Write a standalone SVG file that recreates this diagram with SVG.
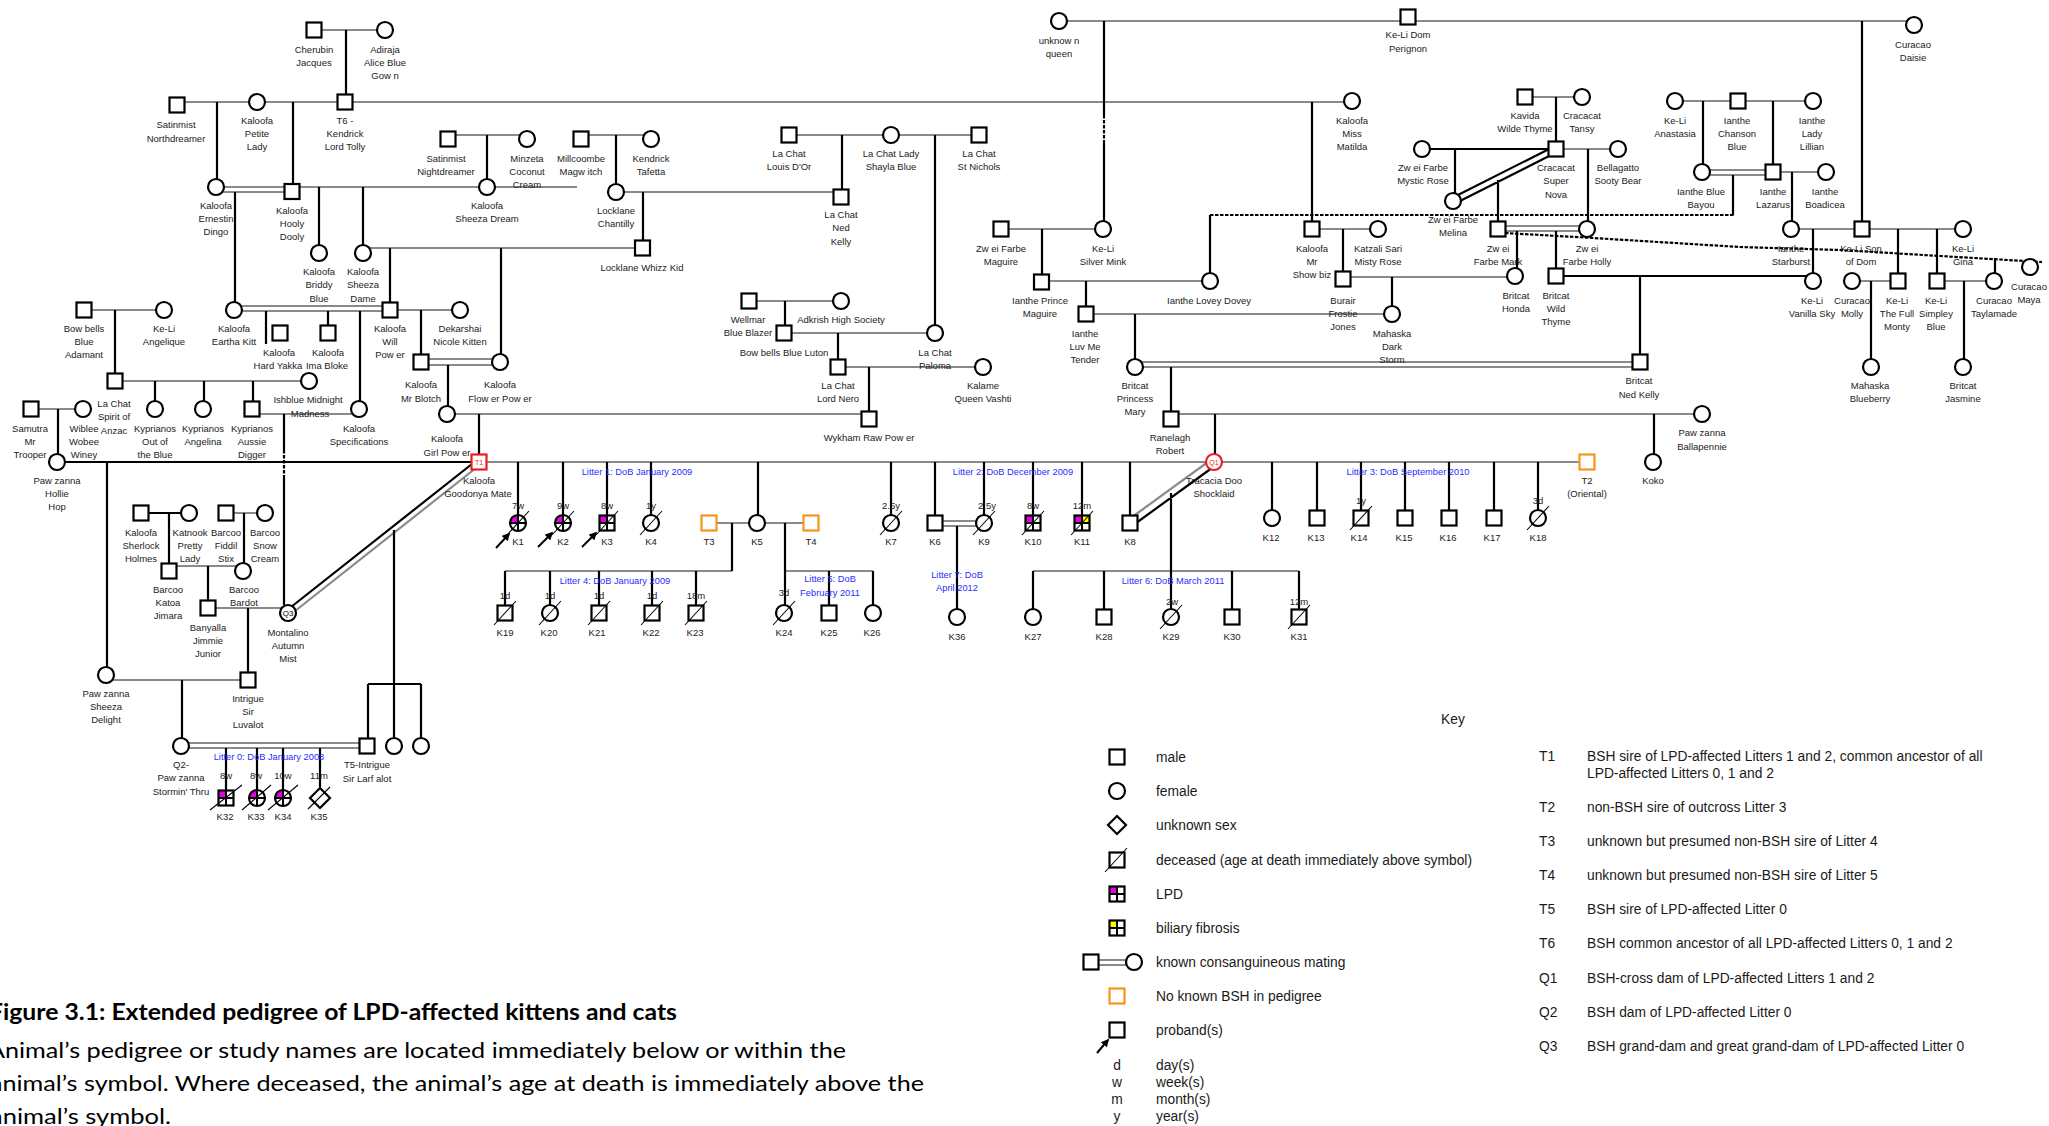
<svg xmlns="http://www.w3.org/2000/svg" width="2049" height="1126" viewBox="0 0 2049 1126">
<defs>
<style>
.m,.f{fill:#fff;stroke:#000;stroke-width:2.2}
.o{fill:#fff;stroke:#f7941d;stroke-width:2.2}
.r{fill:#fff;stroke:#ed1c24;stroke-width:2.2}
.n{fill:none;stroke:#000;stroke-width:2.2}
.w{fill:#fff}
.g{stroke:#8a8a8a;stroke-width:2.2;fill:none}
.b{stroke:#000;stroke-width:2.2;fill:none}
.d{stroke:#000;stroke-width:2.2;fill:none;stroke-dasharray:3.5 1.5}
.x{stroke:#000;stroke-width:1.1;fill:none}
.q{stroke:#000;stroke-width:2;fill:none}
.lp{fill:#e600e6}
.bf{fill:#ffff00}
.ar{stroke:#000;stroke-width:2;fill:none;marker-end:url(#ah)}
text{font-family:"Liberation Sans",Arial,sans-serif}
.t{font-size:9.5px;fill:#222;text-anchor:middle}
.l{font-size:9.3px;fill:#2b2bff;text-anchor:middle}
.rt{font-size:7px;fill:#ed1c24;text-anchor:middle}
.bt{font-size:8px;fill:#000;text-anchor:middle}
.k{font-size:13.8px;fill:#1a1a1a}
.c{font-family:Lato,"Liberation Sans",sans-serif;font-size:22px;fill:#000}
</style>
<marker id="ah" viewBox="0 0 10 10" refX="8" refY="5" markerWidth="4" markerHeight="4" orient="auto"><path d="M0,0L10,5L0,10z" fill="#000"/></marker>
</defs>
<rect width="2049" height="1126" fill="#fff"/>

<g id="connectors">
<path class="g" d="M177,102H1352 M314,30H385 M216,187H577 M216,192H292 M448,135H527 M581,135H651 M363,248H642 M616,192H841 M789,135H979 M1059,21H1914 M1525,97H1582 M1556,149H1618 M1498,226H1587 M1498,231H1587 M1675,101H1813 M1702,170H1773 M1702,175H1773 M1773,172H1826 M1791,229H1963 M1852,281H1898 M1937,281H1994 M1001,229H1103 M1312,229H1378 M1041,281H1210 M1343,277H1515 M1086,314H1392 M1135,362H1640 M1135,367H1640 M1171,414H1702 M479,462H1587 M749,301H841 M784,333H935 M838,367H983 M447,414H869 M84,310H164 M234,306H390 M234,311H390 M390,310H460 M421,359H500 M421,365H500 M115,381H309 M31,409H83 M252,414H359 M226,513H265 M169,566H243 M208,608H288 M106,680H248 M181,743H367 M181,748H367 M709,523H811 M935,521H984 M935,526H984 M505,571H732 M785,571H873 M1033,571H1299 M481,464L290,615 M1128,520L1212,459"/>
<path class="b" d="M57,462H479 M1422,149H1556 M1556,276H1813 M141,513H189 M368,684H421 M477,460L286,611 M1132,526L1216,465 M1452,198L1555,146 M1454,204L1557,152 M346,30V95 M217,102V179 M293,102V184 M235,192V302 M319,187V245 M363,187V245 M487,135V179 M616,135V184 M643,192V240 M842,135V189 M935,135V325 M390,248V302 M501,248V354 M1104,21V115 M1104,140V221 M1312,102V221 M1862,21V221 M1556,97V141 M1455,149V193 M1588,149V221 M1498,180V221 M1703,101V164 M1773,101V164 M1792,172V221 M1813,229V273 M1898,229V273 M1937,229V273 M1871,281V359 M1964,281V359 M1733,175V215 M1210,215V273 M1517,231V268 M1556,231V268 M1640,276V354 M1995,258V273 M1042,229V274 M1086,281V306 M1343,229V271 M1392,277V306 M1135,314V359 M1171,367V411 M1215,414V454 M1654,414V454 M785,301V325 M838,333V359 M869,367V411 M115,310V373 M266,311V344 M328,311V325 M360,311V401 M421,310V354 M448,365V406 M479,414V454 M155,381V401 M204,381V401 M253,381V401 M58,409V454 M284,414V450 M284,476V605 M107,462V667 M169,513V563 M244,513V563 M208,566V600 M248,608V672 M182,680V738 M394,530V738 M368,684V738 M421,684V738 M226,748V790 M257,748V790 M283,748V790 M320,748V787 M518,462V515 M563,462V515 M607,462V515 M651,462V515 M758,462V515 M891,462V515 M935,462V515 M984,462V515 M1033,462V515 M1082,462V515 M1130,462V515 M1272,462V510 M1317,462V510 M1361,462V510 M1405,462V510 M1449,462V510 M1494,462V510 M1538,462V510 M732,523V571 M785,523V605 M505,571V605 M550,571V605 M599,571V605 M652,571V605 M696,571V605 M829,571V605 M873,571V605 M957,526V609 M1171,493V571 M1033,571V609 M1104,571V609 M1171,571V609 M1232,571V609 M1299,571V609"/>
<path class="d" d="M1210,215H1735 M1505,233L1593,238L1740,247L1840,250L1940,256L2042,262 M1104,115V140 M284,450V476"/>
</g>

<g id="nodes">
<g id="n-cherubin"><rect class="m" x="306.5" y="22.5" width="15" height="15"/><text class="t" x="314" y="52.5">Cherubin<tspan x="314" dy="13">Jacques</tspan></text></g>
<g id="n-adiraja"><circle class="f" cx="385" cy="30" r="8"/><text class="t" x="385" y="52.5">Adiraja<tspan x="385" dy="13">Alice Blue</tspan><tspan x="385" dy="13">Gow n</tspan></text></g>
<g id="n-satinmist-n"><rect class="m" x="169.5" y="97.5" width="15" height="15"/><text class="t" x="176" y="127.5">Satinmist<tspan x="176" dy="14">Northdreamer</tspan></text></g>
<g id="n-petite"><circle class="f" cx="257" cy="102" r="8"/><text class="t" x="257" y="123.5">Kaloofa<tspan x="257" dy="13">Petite</tspan><tspan x="257" dy="13">Lady</tspan></text></g>
<g id="n-t6"><rect class="m" x="337.5" y="94.5" width="15" height="15"/><text class="t" x="345" y="123.5">T6 -<tspan x="345" dy="13">Kendrick</tspan><tspan x="345" dy="13">Lord Tolly</tspan></text></g>
<g id="n-ernestin"><circle class="f" cx="216" cy="187" r="8"/><text class="t" x="216" y="208.5">Kaloofa<tspan x="216" dy="13">Ernestin</tspan><tspan x="216" dy="13">Dingo</tspan></text></g>
<g id="n-hooly"><rect class="m" x="284.5" y="184" width="15" height="15"/><text class="t" x="292" y="213.5">Kaloofa<tspan x="292" dy="13">Hooly</tspan><tspan x="292" dy="13">Dooly</tspan></text></g>
<g id="n-satinmist-ni"><rect class="m" x="440.5" y="131.5" width="15" height="15"/><text class="t" x="446" y="161.5">Satinmist<tspan x="446" dy="13">Nightdreamer</tspan></text></g>
<g id="n-minzeta"><circle class="f" cx="527" cy="139" r="8"/><text class="t" x="527" y="161.5">Minzeta<tspan x="527" dy="13">Coconut</tspan><tspan x="527" dy="13">Cream</tspan></text></g>
<g id="n-sheezadream"><circle class="f" cx="487" cy="187" r="8"/><text class="t" x="487" y="208.5">Kaloofa<tspan x="487" dy="13">Sheeza Dream</tspan></text></g>
<g id="n-briddy"><circle class="f" cx="319" cy="253" r="8"/><text class="t" x="319" y="274.5">Kaloofa<tspan x="319" dy="13.5">Briddy</tspan><tspan x="319" dy="13.5">Blue</tspan></text></g>
<g id="n-sheezadame"><circle class="f" cx="363" cy="253" r="8"/><text class="t" x="363" y="274.5">Kaloofa<tspan x="363" dy="13.5">Sheeza</tspan><tspan x="363" dy="13.5">Dame</tspan></text></g>
<g id="n-millcoombe"><rect class="m" x="573.5" y="131.5" width="15" height="15"/><text class="t" x="581" y="161.5">Millcoombe<tspan x="581" dy="13">Magw itch</tspan></text></g>
<g id="n-tafetta"><circle class="f" cx="651" cy="139" r="8"/><text class="t" x="651" y="161.5">Kendrick<tspan x="651" dy="13">Tafetta</tspan></text></g>
<g id="n-chantilly"><circle class="f" cx="616" cy="192" r="8"/><text class="t" x="616" y="213.5">Locklane<tspan x="616" dy="13">Chantilly</tspan></text></g>
<g id="n-whizz"><rect class="m" x="635" y="240.5" width="15" height="15"/><text class="t" x="642" y="270.5">Locklane Whizz Kid</text></g>
<g id="n-louis"><rect class="m" x="781.5" y="127.5" width="15" height="15"/><text class="t" x="789" y="156.5">La Chat<tspan x="789" dy="13">Louis D'Or</tspan></text></g>
<g id="n-shayla"><circle class="f" cx="891" cy="135" r="8"/><text class="t" x="891" y="156.5">La Chat Lady<tspan x="891" dy="13">Shayla Blue</tspan></text></g>
<g id="n-stnichols"><rect class="m" x="971.5" y="127.5" width="15" height="15"/><text class="t" x="979" y="156.5">La Chat<tspan x="979" dy="13">St Nichols</tspan></text></g>
<g id="n-nedkelly-lc"><rect class="m" x="833.5" y="189.5" width="15" height="15"/><text class="t" x="841" y="217.5">La Chat<tspan x="841" dy="13.5">Ned</tspan><tspan x="841" dy="13.5">Kelly</tspan></text></g>
<g id="n-unknownqueen"><circle class="f" cx="1059" cy="21" r="8"/><text class="t" x="1059" y="43.5">unknow n<tspan x="1059" dy="13">queen</tspan></text></g>
<g id="n-domperignon"><rect class="m" x="1400.5" y="9.5" width="15" height="15"/><text class="t" x="1408" y="37.5">Ke-Li Dom<tspan x="1408" dy="14">Perignon</tspan></text></g>
<g id="n-daisie"><circle class="f" cx="1914" cy="25" r="8"/><text class="t" x="1913" y="47.5">Curacao<tspan x="1913" dy="13">Daisie</tspan></text></g>
<g id="n-matilda"><circle class="f" cx="1352" cy="101" r="8"/><text class="t" x="1352" y="123.5">Kaloofa<tspan x="1352" dy="13">Miss</tspan><tspan x="1352" dy="13">Matilda</tspan></text></g>
<g id="n-kavida"><rect class="m" x="1517.5" y="89.5" width="15" height="15"/><text class="t" x="1525" y="118.5">Kavida<tspan x="1525" dy="13">Wilde Thyme</tspan></text></g>
<g id="n-tansy"><circle class="f" cx="1582" cy="97" r="8"/><text class="t" x="1582" y="118.5">Cracacat<tspan x="1582" dy="13">Tansy</tspan></text></g>
<g id="n-mysticrose"><circle class="f" cx="1422" cy="149" r="8"/><text class="t" x="1423" y="170.5">Zw ei Farbe<tspan x="1423" dy="13">Mystic Rose</tspan></text></g>
<g id="n-supernova"><rect class="m" x="1548.5" y="141.5" width="15" height="15"/><text class="t" x="1556" y="170.5">Cracacat<tspan x="1556" dy="13.5">Super</tspan><tspan x="1556" dy="13.5">Nova</tspan></text></g>
<g id="n-sootybear"><circle class="f" cx="1618" cy="149" r="8"/><text class="t" x="1618" y="170.5">Bellagatto<tspan x="1618" dy="13">Sooty Bear</tspan></text></g>
<g id="n-melina"><circle class="f" cx="1453" cy="201" r="8"/><text class="t" x="1453" y="222.5">Zw ei Farbe<tspan x="1453" dy="13">Melina</tspan></text></g>
<g id="n-mark"><rect class="m" x="1490.5" y="221.5" width="15" height="15"/><text class="t" x="1498" y="251.5">Zw ei<tspan x="1498" dy="13">Farbe Mark</tspan></text></g>
<g id="n-holly"><circle class="f" cx="1587" cy="229" r="8"/><text class="t" x="1587" y="251.5">Zw ei<tspan x="1587" dy="13">Farbe Holly</tspan></text></g>
<g id="n-anastasia"><circle class="f" cx="1675" cy="101" r="8"/><text class="t" x="1675" y="123.5">Ke-Li<tspan x="1675" dy="13">Anastasia</tspan></text></g>
<g id="n-chanson"><rect class="m" x="1730.5" y="93.5" width="15" height="15"/><text class="t" x="1737" y="123.5">Ianthe<tspan x="1737" dy="13">Chanson</tspan><tspan x="1737" dy="13">Blue</tspan></text></g>
<g id="n-lillian"><circle class="f" cx="1813" cy="101" r="8"/><text class="t" x="1812" y="123.5">Ianthe<tspan x="1812" dy="13">Lady</tspan><tspan x="1812" dy="13">Lillian</tspan></text></g>
<g id="n-bluebayou"><circle class="f" cx="1702" cy="172" r="8"/><text class="t" x="1701" y="194.5">Ianthe Blue<tspan x="1701" dy="13">Bayou</tspan></text></g>
<g id="n-lazarus"><rect class="m" x="1765.5" y="164.5" width="15" height="15"/><text class="t" x="1773" y="194.5">Ianthe<tspan x="1773" dy="13">Lazarus</tspan></text></g>
<g id="n-boadicea"><circle class="f" cx="1826" cy="172" r="8"/><text class="t" x="1825" y="194.5">Ianthe<tspan x="1825" dy="13">Boadicea</tspan></text></g>
<g id="n-starburst"><circle class="f" cx="1791" cy="229" r="8"/><text class="t" x="1791" y="251.5">Ianthe<tspan x="1791" dy="13">Starburst</tspan></text></g>
<g id="n-sonofdom"><rect class="m" x="1854.5" y="221.5" width="15" height="15"/><text class="t" x="1861" y="251.5">Ke-Li Son<tspan x="1861" dy="13">of Dom</tspan></text></g>
<g id="n-gina"><circle class="f" cx="1963" cy="229" r="8"/><text class="t" x="1963" y="251.5">Ke-Li<tspan x="1963" dy="13">Gina</tspan></text></g>
<g id="n-maya"><circle class="f" cx="2030" cy="267" r="8"/><text class="t" x="2029" y="289.5">Curacao<tspan x="2029" dy="13">Maya</tspan></text></g>
<g id="n-vanillasky"><circle class="f" cx="1813" cy="281" r="8"/><text class="t" x="1812" y="303.5">Ke-Li<tspan x="1812" dy="13">Vanilla Sky</tspan></text></g>
<g id="n-molly"><circle class="f" cx="1852" cy="281" r="8"/><text class="t" x="1852" y="303.5">Curacao<tspan x="1852" dy="13">Molly</tspan></text></g>
<g id="n-fullmonty"><rect class="m" x="1890.5" y="273.5" width="15" height="15"/><text class="t" x="1897" y="303.5">Ke-Li<tspan x="1897" dy="13">The Full</tspan><tspan x="1897" dy="13">Monty</tspan></text></g>
<g id="n-simpley"><rect class="m" x="1929.5" y="273.5" width="15" height="15"/><text class="t" x="1936" y="303.5">Ke-Li<tspan x="1936" dy="13">Simpley</tspan><tspan x="1936" dy="13">Blue</tspan></text></g>
<g id="n-taylamade"><circle class="f" cx="1994" cy="281" r="8"/><text class="t" x="1994" y="303.5">Curacao<tspan x="1994" dy="13">Taylamade</tspan></text></g>
<g id="n-blueberry"><circle class="f" cx="1871" cy="367" r="8"/><text class="t" x="1870" y="388.5">Mahaska<tspan x="1870" dy="13">Blueberry</tspan></text></g>
<g id="n-jasmine"><circle class="f" cx="1963" cy="367" r="8"/><text class="t" x="1963" y="388.5">Britcat<tspan x="1963" dy="13">Jasmine</tspan></text></g>
<g id="n-maguire-zf"><rect class="m" x="993.5" y="221.5" width="15" height="15"/><text class="t" x="1001" y="251.5">Zw ei Farbe<tspan x="1001" dy="13">Maguire</tspan></text></g>
<g id="n-silvermink"><circle class="f" cx="1103" cy="229" r="8"/><text class="t" x="1103" y="251.5">Ke-Li<tspan x="1103" dy="13">Silver Mink</tspan></text></g>
<g id="n-showbiz"><rect class="m" x="1304.5" y="221.5" width="15" height="15"/><text class="t" x="1312" y="251.5">Kaloofa<tspan x="1312" dy="13">Mr</tspan><tspan x="1312" dy="13">Show biz</tspan></text></g>
<g id="n-mistyrose"><circle class="f" cx="1378" cy="229" r="8"/><text class="t" x="1378" y="251.5">Katzali Sari<tspan x="1378" dy="13">Misty Rose</tspan></text></g>
<g id="n-princemaguire"><rect class="m" x="1034" y="274.5" width="15" height="15"/><text class="t" x="1040" y="303.5">Ianthe Prince<tspan x="1040" dy="13">Maguire</tspan></text></g>
<g id="n-loveydovey"><circle class="f" cx="1210" cy="281" r="8"/><text class="t" x="1209" y="303.5">Ianthe Lovey Dovey</text></g>
<g id="n-burair"><rect class="m" x="1335.5" y="271.5" width="15" height="15"/><text class="t" x="1343" y="303.5">Burair<tspan x="1343" dy="13">Frostie</tspan><tspan x="1343" dy="13">Jones</tspan></text></g>
<g id="n-honda"><circle class="f" cx="1515" cy="276" r="8"/><text class="t" x="1516" y="298.5">Britcat<tspan x="1516" dy="13">Honda</tspan></text></g>
<g id="n-wildthyme"><rect class="m" x="1548.5" y="268.5" width="15" height="15"/><text class="t" x="1556" y="298.5">Britcat<tspan x="1556" dy="13">Wild</tspan><tspan x="1556" dy="13.5">Thyme</tspan></text></g>
<g id="n-luvmetender"><rect class="m" x="1078.5" y="306.5" width="15" height="15"/><text class="t" x="1085" y="336.5">Ianthe<tspan x="1085" dy="13">Luv Me</tspan><tspan x="1085" dy="13">Tender</tspan></text></g>
<g id="n-darkstorm"><circle class="f" cx="1392" cy="314" r="8"/><text class="t" x="1392" y="336.5">Mahaska<tspan x="1392" dy="13">Dark</tspan><tspan x="1392" dy="13">Storm</tspan></text></g>
<g id="n-princessmary"><circle class="f" cx="1135" cy="367" r="8"/><text class="t" x="1135" y="388.5">Britcat<tspan x="1135" dy="13">Princess</tspan><tspan x="1135" dy="13.5">Mary</tspan></text></g>
<g id="n-nedkelly-b"><rect class="m" x="1632.5" y="354.5" width="15" height="15"/><text class="t" x="1639" y="383.5">Britcat<tspan x="1639" dy="14">Ned Kelly</tspan></text></g>
<g id="n-ranelagh"><rect class="m" x="1163.5" y="411.5" width="15" height="15"/><text class="t" x="1170" y="440.5">Ranelagh<tspan x="1170" dy="13">Robert</tspan></text></g>
<g id="n-ballapennie"><circle class="f" cx="1702" cy="414" r="8"/><text class="t" x="1702" y="435.5">Paw zanna<tspan x="1702" dy="14">Ballapennie</tspan></text></g>
<g id="n-q1"><circle class="r" cx="1214" cy="462" r="8"/><text class="rt" x="1214" y="464.5">Q1</text><text class="t" x="1214" y="483.5">Tracacia Doo<tspan x="1214" dy="13">Shocklaid</tspan></text></g>
<g id="n-koko"><circle class="f" cx="1653" cy="462" r="8"/><text class="t" x="1653" y="483.5">Koko</text></g>
<g id="n-t2"><rect class="o" x="1579.5" y="454.5" width="15" height="15"/><text class="t" x="1587" y="483.5">T2<tspan x="1587" dy="13">(Oriental)</tspan></text></g>
<g id="n-wellmar"><rect class="m" x="741.5" y="293.5" width="15" height="15"/><text class="t" x="748" y="322.5">Wellmar<tspan x="748" dy="13">Blue Blazer</tspan></text></g>
<g id="n-adkrish"><circle class="f" cx="841" cy="301" r="8"/><text class="t" x="841" y="322.5">Adkrish High Society</text></g>
<g id="n-luton"><rect class="m" x="776.5" y="325.5" width="15" height="15"/><text class="t" x="784" y="355.5">Bow bells Blue Luton</text></g>
<g id="n-paloma"><circle class="f" cx="935" cy="333" r="8"/><text class="t" x="935" y="355.5">La Chat<tspan x="935" dy="13">Paloma</tspan></text></g>
<g id="n-lordnero"><rect class="m" x="830.5" y="359.5" width="15" height="15"/><text class="t" x="838" y="388.5">La Chat<tspan x="838" dy="13">Lord Nero</tspan></text></g>
<g id="n-kalame"><circle class="f" cx="983" cy="367" r="8"/><text class="t" x="983" y="388.5">Kalame<tspan x="983" dy="13">Queen Vashti</tspan></text></g>
<g id="n-wykham"><rect class="m" x="861.5" y="411.5" width="15" height="15"/><text class="t" x="869" y="440.5">Wykham Raw  Pow er</text></g>
<g id="n-bowbells-adamant"><rect class="m" x="76.5" y="302.5" width="15" height="15"/><text class="t" x="84" y="331.5">Bow bells<tspan x="84" dy="13">Blue</tspan><tspan x="84" dy="13.5">Adamant</tspan></text></g>
<g id="n-angelique"><circle class="f" cx="164" cy="310" r="8"/><text class="t" x="164" y="331.5">Ke-Li<tspan x="164" dy="13">Angelique</tspan></text></g>
<g id="n-eartha"><circle class="f" cx="234" cy="310" r="8"/><text class="t" x="234" y="331.5">Kaloofa<tspan x="234" dy="13">Eartha Kitt</tspan></text></g>
<g id="n-hardyakka"><rect class="m" x="272.5" y="325.5" width="15" height="15"/><text class="t" x="279" y="355.5">Kaloofa<tspan x="278" dy="13">Hard Yakka</tspan></text></g>
<g id="n-imabloke"><rect class="m" x="320.5" y="325.5" width="15" height="15"/><text class="t" x="328" y="355.5">Kaloofa<tspan x="327" dy="13">Ima Bloke</tspan></text></g>
<g id="n-willpower"><rect class="m" x="382.5" y="302.5" width="15" height="15"/><text class="t" x="390" y="331.5">Kaloofa<tspan x="390" dy="13">Will</tspan><tspan x="390" dy="13.5">Pow er</tspan></text></g>
<g id="n-dekarshai"><circle class="f" cx="460" cy="310" r="8"/><text class="t" x="460" y="331.5">Dekarshai<tspan x="460" dy="13">Nicole Kitten</tspan></text></g>
<g id="n-mrblotch"><rect class="m" x="413.5" y="354.5" width="15" height="15"/><text class="t" x="421" y="387.5">Kaloofa<tspan x="421" dy="14">Mr Blotch</tspan></text></g>
<g id="n-flowerpower"><circle class="f" cx="500" cy="362" r="8"/><text class="t" x="500" y="387.5">Kaloofa<tspan x="500" dy="14">Flow er Pow er</tspan></text></g>
<g id="n-girlpower"><circle class="f" cx="447" cy="414" r="8"/><text class="t" x="447" y="441.5">Kaloofa<tspan x="447" dy="14">Girl Pow er</tspan></text></g>
<g id="n-t1"><rect class="r" x="471.5" y="454.5" width="15" height="15"/><text class="rt" x="479" y="464.5">T1</text><text class="t" x="479" y="483.5">Kaloofa<tspan x="478" dy="13">Goodonya Mate</tspan></text></g>
<g id="n-anzac"><rect class="m" x="107.5" y="373.5" width="15" height="15"/><text class="t" x="114" y="406.5">La Chat<tspan x="114" dy="13.5">Spirit of</tspan><tspan x="114" dy="13.5">Anzac</tspan></text></g>
<g id="n-ishblue"><circle class="f" cx="309" cy="381" r="8"/><text class="t" x="308" y="402.5">Ishblue Midnight<tspan x="310" dy="14">Madness</tspan></text></g>
<g id="n-outoftheblue"><circle class="f" cx="155" cy="409" r="8"/><text class="t" x="155" y="431.5">Kyprianos<tspan x="155" dy="13">Out of</tspan><tspan x="155" dy="13">the Blue</tspan></text></g>
<g id="n-angelina"><circle class="f" cx="203" cy="409" r="8"/><text class="t" x="203" y="431.5">Kyprianos<tspan x="203" dy="13">Angelina</tspan></text></g>
<g id="n-aussiedigger"><rect class="m" x="244.5" y="401.5" width="15" height="15"/><text class="t" x="252" y="431.5">Kyprianos<tspan x="252" dy="13">Aussie</tspan><tspan x="252" dy="13">Digger</tspan></text></g>
<g id="n-specifications"><circle class="f" cx="359" cy="409" r="8"/><text class="t" x="359" y="431.5">Kaloofa<tspan x="359" dy="13">Specifications</tspan></text></g>
<g id="n-samutra"><rect class="m" x="23.5" y="401.5" width="15" height="15"/><text class="t" x="30" y="431.5">Samutra<tspan x="30" dy="13">Mr</tspan><tspan x="30" dy="13">Trooper</tspan></text></g>
<g id="n-wiblee"><circle class="f" cx="83" cy="409" r="8"/><text class="t" x="84" y="431.5">Wiblee<tspan x="84" dy="13">Wobee</tspan><tspan x="84" dy="13">Winey</tspan></text></g>
<g id="n-holliehop"><circle class="f" cx="57" cy="462" r="8"/><text class="t" x="57" y="483.5">Paw zanna<tspan x="57" dy="13">Hollie</tspan><tspan x="57" dy="13">Hop</tspan></text></g>
<g id="n-sherlock"><rect class="m" x="133.5" y="505.5" width="15" height="15"/><text class="t" x="141" y="535.5">Kaloofa<tspan x="141" dy="13">Sherlock</tspan><tspan x="141" dy="13">Holmes</tspan></text></g>
<g id="n-katnook"><circle class="f" cx="189" cy="513" r="8"/><text class="t" x="190" y="535.5">Katnook<tspan x="190" dy="13">Pretty</tspan><tspan x="190" dy="13">Lady</tspan></text></g>
<g id="n-fiddil"><rect class="m" x="218.5" y="505.5" width="15" height="15"/><text class="t" x="226" y="535.5">Barcoo<tspan x="226" dy="13">Fiddil</tspan><tspan x="226" dy="13">Stix</tspan></text></g>
<g id="n-snowcream"><circle class="f" cx="265" cy="513" r="8"/><text class="t" x="265" y="535.5">Barcoo<tspan x="265" dy="13">Snow</tspan><tspan x="265" dy="13">Cream</tspan></text></g>
<g id="n-katoa"><rect class="m" x="161.5" y="563.5" width="15" height="15"/><text class="t" x="168" y="592.5">Barcoo<tspan x="168" dy="13">Katoa</tspan><tspan x="168" dy="13">Jimara</tspan></text></g>
<g id="n-bardot"><circle class="f" cx="243" cy="571" r="8"/><text class="t" x="244" y="592.5">Barcoo<tspan x="244" dy="13">Bardot</tspan></text></g>
<g id="n-jimmie"><rect class="m" x="200.5" y="600.5" width="15" height="15"/><text class="t" x="208" y="630.5">Banyalla<tspan x="208" dy="13">Jimmie</tspan><tspan x="208" dy="13">Junior</tspan></text></g>
<g id="n-q3"><circle class="f" cx="288" cy="613" r="8"/><text class="bt" x="288" y="616">Q3</text><text class="t" x="288" y="635.5">Montalino<tspan x="288" dy="13">Autumn</tspan><tspan x="288" dy="13">Mist</tspan></text></g>
<g id="n-sheezadelight"><circle class="f" cx="106" cy="675" r="8"/><text class="t" x="106" y="696.5">Paw zanna<tspan x="106" dy="13">Sheeza</tspan><tspan x="106" dy="13.5">Delight</tspan></text></g>
<g id="n-intrigue"><rect class="m" x="240.5" y="672.5" width="15" height="15"/><text class="t" x="248" y="701.5">Intrigue<tspan x="248" dy="13">Sir</tspan><tspan x="248" dy="13">Luvalot</tspan></text></g>
<g id="n-q2"><circle class="f" cx="181" cy="746" r="8"/><text class="t" x="181" y="767.5">Q2-<tspan x="181" dy="13.5">Paw zanna</tspan><tspan x="181" dy="13.5">Stormin' Thru</tspan></text></g>
<g id="n-t5"><rect class="m" x="359.5" y="738.5" width="15" height="15"/><text class="t" x="367" y="767.5">T5-Intrigue<tspan x="367" dy="14">Sir Larf alot</tspan></text></g>
<g id="n-sib1"><circle class="f" cx="394" cy="746" r="8"/></g>
<g id="n-sib2"><circle class="f" cx="421" cy="746" r="8"/></g>

<g id="k1"><circle class="w" cx="518" cy="523" r="8"/><path class="lp" d="M518,523H510A8,8 0 0 1 518,515Z"/><path class="q" d="M510,523H526M518,515V531"/><circle class="n" cx="518" cy="523" r="8"/><path class="x" d="M507,535L529,511"/><path class="ar" d="M496,548L509,534"/><text class="t" x="518" y="508.5">7w</text><text class="t" x="518" y="544.5">K1</text></g>
<g id="k2"><circle class="w" cx="563" cy="523" r="8"/><path class="lp" d="M563,523H555A8,8 0 0 1 563,515Z"/><path class="q" d="M555,523H571M563,515V531"/><circle class="n" cx="563" cy="523" r="8"/><path class="x" d="M552,535L574,511"/><path class="ar" d="M538,547L552,533"/><text class="t" x="563" y="508.5">9w</text><text class="t" x="563" y="544.5">K2</text></g>
<g id="k3"><rect class="w" x="599.5" y="515.5" width="15" height="15"/><rect class="lp" x="599.5" y="515.5" width="7.5" height="7.5"/><path class="q" d="M599.5,523H614.5M607,515.5V530.5"/><rect class="n" x="599.5" y="515.5" width="15" height="15"/><path class="x" d="M596,535L618,511"/><path class="ar" d="M582,547L596,533"/><text class="t" x="607" y="508.5">8w</text><text class="t" x="607" y="544.5">K3</text></g>
<g id="k4"><circle class="f" cx="651" cy="523" r="8"/><path class="x" d="M640,535L662,511"/><text class="t" x="651" y="508.5">1y</text><text class="t" x="651" y="544.5">K4</text></g>
<g id="n-t3"><rect class="o" x="701.5" y="515.5" width="15" height="15"/><text class="t" x="709" y="544.5">T3</text></g>
<g id="k5"><circle class="f" cx="757" cy="523" r="8"/><text class="t" x="757" y="544.5">K5</text></g>
<g id="n-t4"><rect class="o" x="803.5" y="515.5" width="15" height="15"/><text class="t" x="811" y="544.5">T4</text></g>
<g id="k7"><circle class="f" cx="891" cy="523" r="8"/><path class="x" d="M880,535L902,511"/><text class="t" x="891" y="508.5">2.5y</text><text class="t" x="891" y="544.5">K7</text></g>
<g id="k6"><rect class="m" x="927.5" y="515.5" width="15" height="15"/><text class="t" x="935" y="544.5">K6</text></g>
<g id="k9"><circle class="f" cx="984" cy="523" r="8"/><path class="x" d="M973,535L995,511"/><text class="t" x="987" y="508.5">2.5y</text><text class="t" x="984" y="544.5">K9</text></g>
<g id="k10"><rect class="w" x="1025.5" y="515.5" width="15" height="15"/><rect class="lp" x="1025.5" y="515.5" width="7.5" height="7.5"/><path class="q" d="M1025.5,523H1040.5M1033,515.5V530.5"/><rect class="n" x="1025.5" y="515.5" width="15" height="15"/><path class="x" d="M1022,535L1044,511"/><text class="t" x="1033" y="508.5">8w</text><text class="t" x="1033" y="544.5">K10</text></g>
<g id="k11"><rect class="w" x="1074.5" y="515.5" width="15" height="15"/><rect class="lp" x="1074.5" y="515.5" width="7.5" height="7.5"/><rect class="bf" x="1082" y="515.5" width="7.5" height="7.5"/><path class="q" d="M1074.5,523H1089.5M1082,515.5V530.5"/><rect class="n" x="1074.5" y="515.5" width="15" height="15"/><path class="x" d="M1071,535L1093,511"/><text class="t" x="1082" y="508.5">12m</text><text class="t" x="1082" y="544.5">K11</text></g>
<g id="k8"><rect class="m" x="1122.5" y="515.5" width="15" height="15"/><text class="t" x="1130" y="544.5">K8</text></g>
<g id="k12"><circle class="f" cx="1272" cy="518" r="8"/><text class="t" x="1271" y="540.5">K12</text></g>
<g id="k13"><rect class="m" x="1309.5" y="510.5" width="15" height="15"/><text class="t" x="1316" y="540.5">K13</text></g>
<g id="k14"><rect class="m" x="1353.5" y="510.5" width="15" height="15"/><path class="x" d="M1350,530L1372,506"/><text class="t" x="1361" y="503.5">1y</text><text class="t" x="1359" y="540.5">K14</text></g>
<g id="k15"><rect class="m" x="1397.5" y="510.5" width="15" height="15"/><text class="t" x="1404" y="540.5">K15</text></g>
<g id="k16"><rect class="m" x="1441.5" y="510.5" width="15" height="15"/><text class="t" x="1448" y="540.5">K16</text></g>
<g id="k17"><rect class="m" x="1486.5" y="510.5" width="15" height="15"/><text class="t" x="1492" y="540.5">K17</text></g>
<g id="k18"><circle class="f" cx="1538" cy="518" r="8"/><path class="x" d="M1527,530L1549,506"/><text class="t" x="1538" y="503.5">3d</text><text class="t" x="1538" y="540.5">K18</text></g>
<g id="k19"><rect class="m" x="497.5" y="605.5" width="15" height="15"/><path class="x" d="M494,625L516,601"/><text class="t" x="505" y="598.5">1d</text><text class="t" x="505" y="635.5">K19</text></g>
<g id="k20"><circle class="f" cx="550" cy="613" r="8"/><path class="x" d="M539,625L561,601"/><text class="t" x="550" y="598.5">1d</text><text class="t" x="549" y="635.5">K20</text></g>
<g id="k21"><rect class="m" x="591.5" y="605.5" width="15" height="15"/><path class="x" d="M588,625L610,601"/><text class="t" x="599" y="598.5">1d</text><text class="t" x="597" y="635.5">K21</text></g>
<g id="k22"><rect class="m" x="644.5" y="605.5" width="15" height="15"/><path class="x" d="M641,625L663,601"/><text class="t" x="652" y="598.5">1d</text><text class="t" x="651" y="635.5">K22</text></g>
<g id="k23"><rect class="m" x="688.5" y="605.5" width="15" height="15"/><path class="x" d="M685,625L707,601"/><text class="t" x="696" y="598.5">18m</text><text class="t" x="695" y="635.5">K23</text></g>
<g id="k24"><circle class="f" cx="784" cy="613" r="8"/><path class="x" d="M773,625L795,601"/><text class="t" x="784" y="595.5">3d</text><text class="t" x="784" y="635.5">K24</text></g>
<g id="k25"><rect class="m" x="821.5" y="605.5" width="15" height="15"/><text class="t" x="829" y="635.5">K25</text></g>
<g id="k26"><circle class="f" cx="873" cy="613" r="8"/><text class="t" x="872" y="635.5">K26</text></g>
<g id="k36"><circle class="f" cx="957" cy="617" r="8"/><text class="t" x="957" y="639.5">K36</text></g>
<g id="k27"><circle class="f" cx="1033" cy="617" r="8"/><text class="t" x="1033" y="639.5">K27</text></g>
<g id="k28"><rect class="m" x="1096.5" y="609.5" width="15" height="15"/><text class="t" x="1104" y="639.5">K28</text></g>
<g id="k29"><circle class="f" cx="1171" cy="617" r="8"/><path class="x" d="M1160,629L1182,605"/><text class="t" x="1172" y="604.5">2w</text><text class="t" x="1171" y="639.5">K29</text></g>
<g id="k30"><rect class="m" x="1224.5" y="609.5" width="15" height="15"/><text class="t" x="1232" y="639.5">K30</text></g>
<g id="k31"><rect class="m" x="1291.5" y="609.5" width="15" height="15"/><path class="x" d="M1288,629L1310,605"/><text class="t" x="1299" y="604.5">12m</text><text class="t" x="1299" y="639.5">K31</text></g>
<g id="k32"><rect class="w" x="218.5" y="790.5" width="15" height="15"/><rect class="lp" x="218.5" y="790.5" width="7.5" height="7.5"/><path class="q" d="M218.5,798H233.5M226,790.5V805.5"/><rect class="n" x="218.5" y="790.5" width="15" height="15"/><path class="x" d="M210,810L242,785"/><text class="t" x="226" y="778.5">8w</text><text class="t" x="225" y="819.5">K32</text></g>
<g id="k33"><circle class="w" cx="257" cy="798" r="8"/><path class="lp" d="M257,798H249A8,8 0 0 1 257,790Z"/><path class="q" d="M249,798H265M257,790V806"/><circle class="n" cx="257" cy="798" r="8"/><path class="x" d="M242,810L271,785"/><text class="t" x="256" y="778.5">8w</text><text class="t" x="256" y="819.5">K33</text></g>
<g id="k34"><circle class="w" cx="283" cy="798" r="8"/><path class="lp" d="M283,798H275A8,8 0 0 1 283,790Z"/><path class="q" d="M275,798H291M283,790V806"/><circle class="n" cx="283" cy="798" r="8"/><path class="x" d="M268,810L298,785"/><text class="t" x="283" y="778.5">10w</text><text class="t" x="283" y="819.5">K34</text></g>
<g id="k35"><path class="m" d="M320,788L330,798L320,808L310,798Z"/><path class="x" d="M308,809L330,787"/><text class="t" x="319" y="778.5">11m</text><text class="t" x="319" y="819.5">K35</text></g>
</g>

<g id="litter-labels">
<text class="l" x="637" y="474.5">Litter 1: DoB January 2009</text>
<text class="l" x="1013" y="474.5">Litter 2: DoB December 2009</text>
<text class="l" x="1408" y="474.5">Litter 3: DoB September 2010</text>
<text class="l" x="615" y="584">Litter 4: DoB January 2009</text>
<text class="l" x="830" y="581.5">Litter 5: DoB<tspan x="830" dy="14">February 2011</tspan></text>
<text class="l" x="1173" y="583.5">Litter 6: DoB March 2011</text>
<text class="l" x="957" y="577.5">Litter 7: DoB<tspan x="957" dy="13">April 2012</tspan></text>
<text class="l" x="269" y="759.5">Litter 0: DoB January 2008</text>
</g>

<g id="key">
<text class="k" x="1453" y="724" text-anchor="middle">Key</text>
<rect class="m" x="1109.5" y="749.5" width="15" height="15"/>
<circle class="f" cx="1117" cy="791" r="8"/>
<path class="m" d="M1117,816L1126,825L1117,834L1108,825Z"/>
<rect class="m" x="1109.5" y="852.5" width="15" height="15"/><path class="x" d="M1105,872L1127,848"/>
<rect class="w" x="1109.5" y="886.5" width="15" height="15"/><rect class="lp" x="1109.5" y="886.5" width="7.5" height="7.5"/><path class="q" d="M1109.5,894H1124.5M1117,886.5V901.5"/><rect class="n" x="1109.5" y="886.5" width="15" height="15"/>
<rect class="w" x="1109.5" y="920.5" width="15" height="15"/><rect class="bf" x="1109.5" y="920.5" width="7.5" height="7.5"/><path class="q" d="M1109.5,928H1124.5M1117,920.5V935.5"/><rect class="n" x="1109.5" y="920.5" width="15" height="15"/>
<path class="g" d="M1091,960H1134M1091,965H1134"/><rect class="m" x="1083.5" y="954.5" width="15" height="15"/><circle class="f" cx="1134" cy="962" r="8"/>
<rect class="o" x="1109.5" y="988.5" width="15" height="15"/>
<rect class="m" x="1109.5" y="1022.5" width="15" height="15"/><path class="ar" d="M1097,1053L1108,1040"/>
<g class="k" text-anchor="middle"><text x="1117" y="1070">d</text><text x="1117" y="1087">w</text><text x="1117" y="1104">m</text><text x="1117" y="1121">y</text></g>
<g class="k">
<text x="1156" y="762">male</text>
<text x="1156" y="796">female</text>
<text x="1156" y="830">unknown sex</text>
<text x="1156" y="865">deceased (age at death immediately above symbol)</text>
<text x="1156" y="899">LPD</text>
<text x="1156" y="933">biliary fibrosis</text>
<text x="1156" y="967">known consanguineous mating</text>
<text x="1156" y="1001">No known BSH in pedigree</text>
<text x="1156" y="1035">proband(s)</text>
<text x="1156" y="1070">day(s)</text>
<text x="1156" y="1087">week(s)</text>
<text x="1156" y="1104">month(s)</text>
<text x="1156" y="1121">year(s)</text>
<text x="1539" y="761">T1</text><text x="1587" y="761">BSH sire of LPD-affected Litters 1 and 2, common ancestor of all</text>
<text x="1587" y="778">LPD-affected Litters 0, 1 and 2</text>
<text x="1539" y="812">T2</text><text x="1587" y="812">non-BSH sire of outcross Litter 3</text>
<text x="1539" y="846">T3</text><text x="1587" y="846">unknown but presumed non-BSH sire of Litter 4</text>
<text x="1539" y="880">T4</text><text x="1587" y="880">unknown but presumed non-BSH sire of Litter 5</text>
<text x="1539" y="914">T5</text><text x="1587" y="914">BSH sire of LPD-affected Litter 0</text>
<text x="1539" y="948">T6</text><text x="1587" y="948">BSH common ancestor of all LPD-affected Litters 0, 1 and 2</text>
<text x="1539" y="983">Q1</text><text x="1587" y="983">BSH-cross dam of LPD-affected Litters 1 and 2</text>
<text x="1539" y="1017">Q2</text><text x="1587" y="1017">BSH dam of LPD-affected Litter 0</text>
<text x="1539" y="1051">Q3</text><text x="1587" y="1051">BSH grand-dam and great grand-dam of LPD-affected Litter 0</text>
</g>
</g>

<g id="caption">
<text class="c" x="-11" y="1020" font-weight="bold" textLength="688" lengthAdjust="spacingAndGlyphs">Figure 3.1: Extended pedigree of LPD-affected kittens and cats</text>
<text class="c" x="-12" y="1058" textLength="858" lengthAdjust="spacingAndGlyphs">Animal’s pedigree or study names are located immediately below or within the</text>
<text class="c" x="-10" y="1091" textLength="934" lengthAdjust="spacingAndGlyphs">animal’s symbol. Where deceased, the animal’s age at death is immediately above the</text>
<text class="c" x="-10" y="1124" textLength="181" lengthAdjust="spacingAndGlyphs">animal’s symbol.</text>
</g>
</svg>
